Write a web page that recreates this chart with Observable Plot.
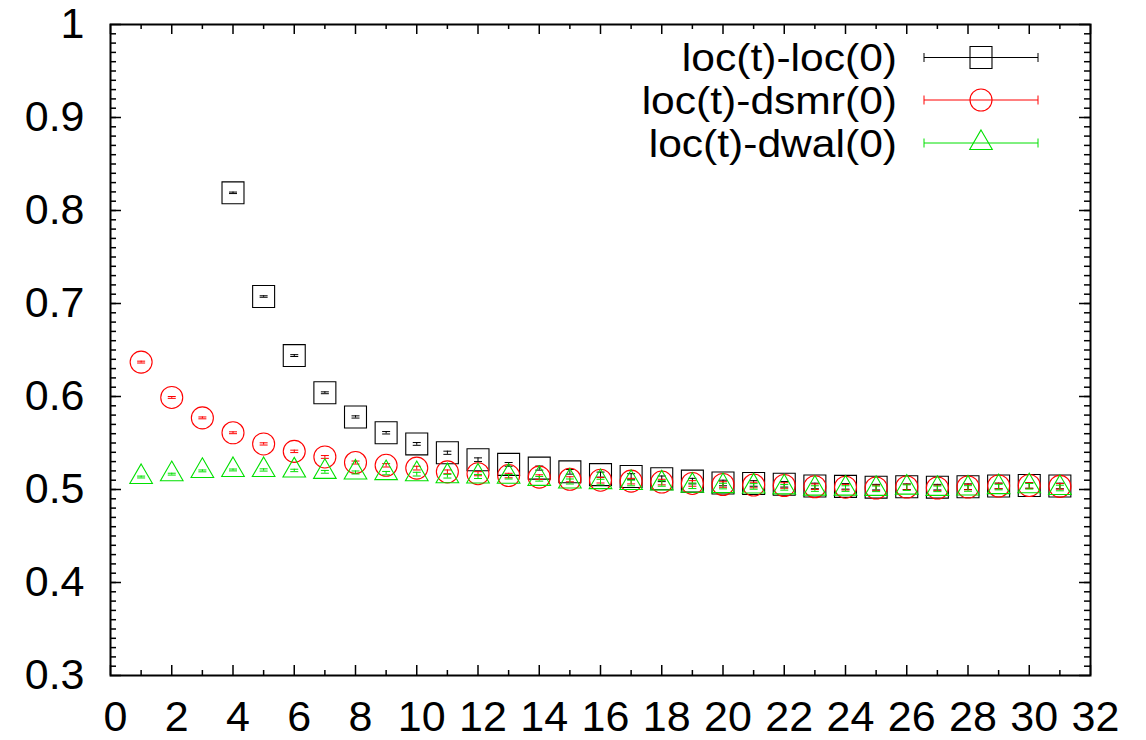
<!DOCTYPE html>
<html>
<head>
<meta charset="utf-8">
<script src="https://cdn.jsdelivr.net/npm/d3@7"></script>
<script src="https://cdn.jsdelivr.net/npm/@observablehq/plot@0.6"></script>
<style>
  html, body { margin: 0; padding: 0; background: #fff; }
  #chart { position: relative; width: 1146px; height: 740px; }
</style>
</head>
<body>
<div id="chart"></div>
<script>
// ---- data ----
const seriesNames = ["loc(t)-loc(0)", "loc(t)-dsmr(0)", "loc(t)-dwal(0)"];
const seriesColors = ["#000000", "#ff0000", "#00e000"];
const seriesSymbols = ["square", "circle", "triangle"];

const tLoc = [4,5,6,7,8,9,10,11,12,13,14,15,16,17,18,19,20,21,22,23,24,25,26,27,28,29,30,31];
const locLoc = [0.819,0.7075,0.644,0.604,0.578,0.561,0.549,0.5395,0.532,0.527,0.523,0.519,0.516,0.514,0.5115,0.509,0.507,0.5065,0.5056,0.5038,0.5034,0.5025,0.503,0.5025,0.503,0.5038,0.5043,0.5038];
const locLocErr = [0.0008,0.0008,0.001,0.001,0.0012,0.0013,0.0015,0.0017,0.002,0.002,0.0022,0.0025,0.0027,0.003,0.003,0.003,0.003,0.003,0.003,0.003,0.003,0.003,0.003,0.003,0.003,0.003,0.003,0.003];

const tAll = [1,2,3,4,5,6,7,8,9,10,11,12,13,14,15,16,17,18,19,20,21,22,23,24,25,26,27,28,29,30,31];
const locDsmr = [0.637,0.599,0.577,0.561,0.549,0.541,0.535,0.529,0.526,0.523,0.519,0.517,0.515,0.5133,0.511,0.51,0.509,0.508,0.5065,0.5054,0.5048,0.5043,0.503,0.5025,0.5016,0.5027,0.5016,0.5027,0.5038,0.5043,0.5034];
const locDsmrErr = [0.001,0.001,0.001,0.001,0.0012,0.0013,0.0015,0.0016,0.0018,0.002,0.002,0.0022,0.0024,0.0025,0.0027,0.003,0.003,0.003,0.003,0.003,0.003,0.003,0.003,0.003,0.003,0.003,0.003,0.003,0.003,0.003,0.003];
const locDwal = [0.5134,0.5165,0.52,0.521,0.521,0.5205,0.519,0.5183,0.5176,0.5165,0.5143,0.514,0.5137,0.5115,0.5086,0.508,0.507,0.5065,0.504,0.5037,0.5033,0.5023,0.501,0.501,0.5007,0.502,0.5007,0.5011,0.5026,0.5035,0.5016];
const locDwalErr = [0.001,0.001,0.001,0.001,0.0012,0.0013,0.0015,0.0016,0.0018,0.002,0.002,0.0022,0.0024,0.0025,0.0027,0.003,0.003,0.003,0.003,0.003,0.003,0.003,0.003,0.003,0.003,0.003,0.003,0.003,0.003,0.003,0.003];

// ticks
const xMajorTicks = [0,2,4,6,8,10,12,14,16,18,20,22,24,26,28,30,32];
const xMinorTicks = [1,3,5,7,9,11,13,15,17,19,21,23,25,27,29,31];
const yMajorTicks = [0.3,0.4,0.5,0.6,0.7,0.8,0.9,1];
const yMinorTicks = d3.range(31, 100).map(v => v / 100);

// ---- build table ----
function rows(ts, ys, es, s) {
  return ts.map((t, i) => ({t, y: ys[i], lo: ys[i] - es[i], hi: ys[i] + es[i], s}));
}
const series = [
  rows(tLoc, locLoc, locLocErr, 0),
  rows(tAll, locDsmr, locDsmrErr, 1),
  rows(tAll, locDwal, locDwalErr, 2)
];

const W = 1146, H = 740;
const mL = 110, mR = 56, mT = 24, mB = 65;
const innerW = W - mL - mR, innerH = H - mT - mB;
const FONT = "'Liberation Sans', Arial, Helvetica, sans-serif";
const FS = 43;
const LEGEND_FS = 38;

const capSymbol = { draw(ctx) { ctx.moveTo(-4, 0); ctx.lineTo(4, 0); } };

const marks = [];
series.forEach((data, i) => {
  const c = seriesColors[i];
  marks.push(
    Plot.ruleX(data, {x: "t", y1: "lo", y2: "hi", stroke: c, strokeWidth: 1}),
    Plot.dot(data, {x: "t", y: "lo", symbol: capSymbol, stroke: c, fill: "none", strokeWidth: 1}),
    Plot.dot(data, {x: "t", y: "hi", symbol: capSymbol, stroke: c, fill: "none", strokeWidth: 1}),
    Plot.dot(data, {x: "t", y: "y", symbol: seriesSymbols[i], r: [12.4, 11, 8.4][i], stroke: c, fill: "none", strokeWidth: 1.1})
  );
});

const plot = Plot.plot({
  width: W, height: H,
  marginLeft: mL, marginRight: mR, marginTop: mT, marginBottom: mB,
  style: {fontFamily: FONT, color: "#000", background: "#fff", overflow: "visible"},
  x: {domain: [0, 32], axis: null},
  y: {domain: [0.3, 1], axis: null},
  marks: [
    // inward ticks on all four sides
    Plot.ruleX(xMajorTicks, {x: d => d, insetTop: innerH - 10, stroke: "#000", strokeWidth: 1.5}),
    Plot.ruleX(xMajorTicks, {x: d => d, insetBottom: innerH - 10, stroke: "#000", strokeWidth: 1.5}),
    Plot.ruleX(xMinorTicks, {x: d => d, insetTop: innerH - 5, stroke: "#000", strokeWidth: 1.5}),
    Plot.ruleX(xMinorTicks, {x: d => d, insetBottom: innerH - 5, stroke: "#000", strokeWidth: 1.5}),
    Plot.ruleY(yMajorTicks, {y: d => d, insetRight: innerW - 11, stroke: "#000", strokeWidth: 1.5}),
    Plot.ruleY(yMajorTicks, {y: d => d, insetLeft: innerW - 11, stroke: "#000", strokeWidth: 1.5}),
    Plot.ruleY(yMinorTicks, {y: d => d, insetRight: innerW - 6, stroke: "#000", strokeWidth: 1.5}),
    Plot.ruleY(yMinorTicks, {y: d => d, insetLeft: innerW - 6, stroke: "#000", strokeWidth: 1.5}),
    Plot.axisX(xMajorTicks, {tickSize: 0, tickPadding: 25, fontSize: FS, dx: 5, label: null, tickFormat: d => String(d)}),
    Plot.axisY(yMajorTicks, {tickSize: 0, tickPadding: 26, fontSize: FS, label: null, tickFormat: d => String(d)}),
    ...marks,
    Plot.frame({stroke: "#000", strokeWidth: 2})
  ]
});

document.getElementById("chart").appendChild(plot);

// ---- legend (top-right, inside frame) ----
const svg = d3.select(plot);
const lg = svg.append("g").attr("class", "legend");
const textRight = 897, lineX1 = 924, lineX2 = 1038, symX = 981;
const rowY = [57.5, 100, 143];
seriesNames.forEach((name, i) => {
  const y = rowY[i], c = seriesColors[i];
  const txt = lg.append("text")
    .attr("x", textRight).attr("y", y).attr("dy", "0.36em")
    .attr("text-anchor", "end")
    .attr("font-family", FONT).attr("font-size", LEGEND_FS).attr("fill", "#000")
    .text(name);
  // the reference lettering is slightly wider than the font's natural width
  const natural = txt.node().getComputedTextLength();
  if (natural > 0) txt.attr("textLength", natural * 1.12).attr("lengthAdjust", "spacingAndGlyphs");
  lg.append("line").attr("x1", lineX1).attr("x2", lineX2).attr("y1", y).attr("y2", y)
    .attr("stroke", c).attr("stroke-width", 1);
  [lineX1, lineX2].forEach(xx => lg.append("line").attr("x1", xx).attr("x2", xx)
    .attr("y1", y - 4.5).attr("y2", y + 4.5).attr("stroke", c).attr("stroke-width", 1));
  const sym = {square: d3.symbolSquare, circle: d3.symbolCircle, triangle: d3.symbolTriangle}[seriesSymbols[i]];
  const r = [12.4, 11, 8.4][i];
  lg.append("path")
    .attr("d", d3.symbol(sym, Math.PI * r * r)())
    .attr("transform", `translate(${symX},${y})`)
    .attr("fill", "none").attr("stroke", c).attr("stroke-width", 1.1);
});
</script>
</body>
</html>
